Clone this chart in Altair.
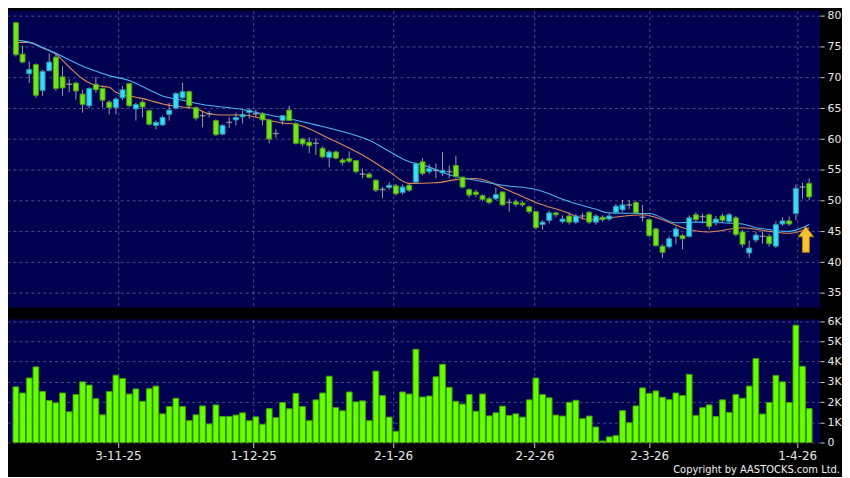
import altair as alt
import pandas as pd

# ---------------- data ----------------
opens = [78.9, 73.8, 70.6, 72.1, 67.9, 71.1, 73.3, 70.1, 68.9, 69.1,
         67.3, 65.4, 68.9, 68.2, 66.0, 65.1, 66.7, 69.0, 64.9, 66.0,
         64.6, 62.2, 62.3, 64.0, 65.0, 66.7, 67.7, 65.1, 63.8, 64.1,
         63.0, 60.8, 62.7, 63.1, 63.6, 64.3, 64.1, 64.1, 63.1, 60.9,
         63.0, 64.7, 62.5, 60.0, 59.5, 59.3, 58.5, 57.0, 57.9, 56.6,
         56.8, 56.5, 54.3, 54.3, 53.3, 51.8, 52.1, 52.4, 51.3, 52.5,
         53.0, 56.3, 54.7, 54.9, 54.5, 54.7, 55.7, 53.8, 51.8, 51.4,
         50.8, 50.3, 50.3, 51.4, 49.7, 49.8, 49.6, 49.0, 48.2, 46.1,
         46.8, 48.0, 46.6, 47.5, 46.5, 47.5, 48.1, 46.5, 47.3, 47.0,
         48.1, 48.5, 49.3, 49.7, 47.3, 46.9, 45.4, 42.6, 42.5, 44.2,
         44.3, 44.2, 47.7, 47.4, 47.7, 46.4, 47.5, 46.6, 47.2, 44.9,
         41.5, 43.6, 44.2, 44.2, 42.6, 46.2, 46.7, 47.9, 52.2, 52.8]
highs = [79.0, 75.1, 72.6, 72.3, 71.2, 73.9, 73.8, 71.8, 69.7, 69.3,
         68.0, 68.4, 70.1, 68.4, 66.3, 66.8, 68.6, 69.1, 65.9, 66.3,
         64.8, 63.0, 63.8, 65.9, 67.6, 69.1, 67.9, 65.3, 64.6, 64.6,
         63.2, 62.4, 63.5, 64.3, 64.6, 65.0, 64.8, 64.4, 63.3, 61.6,
         63.9, 65.4, 62.8, 60.2, 60.3, 60.2, 58.8, 58.2, 58.1, 56.9,
         58.0, 56.6, 55.2, 54.6, 53.5, 52.2, 53.0, 52.7, 52.6, 52.8,
         56.2, 56.9, 55.9, 56.0, 57.9, 55.7, 57.3, 53.9, 52.0, 51.8,
         51.0, 50.6, 52.1, 51.5, 50.3, 50.2, 49.9, 49.2, 48.3, 46.8,
         48.4, 48.2, 47.6, 48.1, 47.8, 48.0, 48.3, 47.8, 47.6, 47.9,
         49.4, 50.1, 50.1, 49.9, 49.3, 47.1, 45.6, 42.9, 44.2, 45.8,
         44.6, 47.6, 48.1, 47.9, 47.9, 47.5, 47.9, 48.0, 47.5, 45.2,
         43.5, 45.0, 45.0, 44.6, 46.6, 47.3, 47.4, 52.6, 52.9, 53.6]
lows = [73.4, 72.3, 69.1, 66.7, 67.0, 71.0, 67.8, 67.0, 67.6, 66.4,
        64.3, 65.0, 67.5, 65.1, 64.0, 64.0, 66.3, 65.2, 63.0, 63.5,
        62.2, 61.6, 62.1, 63.0, 64.8, 66.5, 64.9, 63.0, 61.9, 63.5,
        60.5, 60.6, 61.8, 62.2, 62.5, 63.3, 63.5, 62.2, 59.3, 60.2,
        62.3, 62.9, 59.1, 58.8, 57.7, 57.4, 56.9, 55.4, 56.7, 55.7,
        56.1, 54.4, 53.6, 53.6, 51.4, 50.4, 51.8, 50.8, 51.0, 51.4,
        52.7, 54.1, 54.3, 53.6, 54.0, 53.6, 53.6, 52.0, 50.5, 50.6,
        49.9, 49.4, 50.1, 49.1, 48.2, 49.0, 49.0, 47.9, 45.3, 45.3,
        46.3, 47.3, 46.3, 46.1, 46.2, 46.9, 46.2, 46.1, 46.6, 46.7,
        47.8, 48.2, 48.6, 47.8, 46.6, 44.1, 42.5, 40.7, 42.2, 42.9,
        42.1, 44.0, 46.5, 46.3, 45.3, 45.9, 46.4, 46.3, 44.2, 42.4,
        40.7, 43.2, 43.0, 42.5, 42.3, 45.9, 45.9, 46.8, 50.3, 50.1]
closes = [73.7, 72.5, 71.3, 67.1, 71.0, 72.5, 68.2, 68.3, 68.9, 67.8,
          65.6, 68.2, 68.0, 66.3, 65.1, 66.5, 68.0, 65.4, 65.6, 65.2,
          62.4, 62.7, 63.5, 64.7, 67.4, 67.7, 65.4, 63.4, 63.8, 64.1,
          60.7, 62.2, 62.7, 63.5, 64.0, 64.7, 64.1, 63.1, 60.0, 60.9,
          63.8, 63.0, 59.3, 59.2, 58.9, 59.3, 57.1, 57.9, 56.9, 56.2,
          56.4, 54.7, 54.3, 53.8, 51.7, 51.8, 52.5, 51.1, 52.2, 51.7,
          56.0, 54.4, 55.2, 54.9, 54.9, 54.7, 53.9, 52.2, 50.9, 51.0,
          50.2, 49.7, 51.0, 49.3, 49.7, 49.4, 49.3, 48.2, 45.6, 46.5,
          48.0, 47.7, 47.0, 46.5, 47.5, 47.5, 46.5, 47.5, 46.9, 47.5,
          49.1, 49.3, 49.3, 48.0, 47.3, 44.3, 42.7, 41.6, 43.8, 45.4,
          43.8, 47.2, 46.9, 47.4, 45.8, 47.0, 46.8, 47.7, 44.5, 42.9,
          42.3, 44.4, 44.2, 43.0, 46.1, 46.7, 46.2, 52.0, 52.2, 50.6]
volumes = [2750, 2450, 3190, 3740, 2530, 2080, 1960, 2450, 1520, 2370,
           3000, 2840, 2170, 1370, 2520, 3330, 3170, 2400, 2650, 2040,
           2660, 2790, 1420, 1780, 2190, 1780, 1080, 1370, 1810, 920,
           1860, 1290, 1290, 1360, 1470, 1080, 1270, 900, 1680, 1230,
           1980, 1670, 2430, 1780, 1080, 2110, 2450, 3280, 1730, 1570,
           2500, 2010, 2060, 1080, 3530, 2320, 1260, 560, 2500, 2400,
           4610, 2250, 2300, 3250, 3870, 2730, 2040, 1900, 2370, 1550,
           2400, 1320, 1470, 1800, 1340, 1420, 1260, 2110, 3190, 2370,
           2210, 1360, 1310, 1990, 2090, 1180, 1310, 770, 80, 280,
           340, 1580, 980, 1810, 2700, 2420, 2550, 2240, 2120, 2450,
           2320, 3370, 1340, 1720, 1860, 1290, 2110, 1490, 2370, 2190,
           2790, 4150, 1410, 1980, 3320, 3000, 1980, 5800, 3770, 1680]

# moving averages read at sample bars
ma_short_idx = [0, 2, 4, 6, 8, 10, 12, 14, 15, 18, 20, 22, 25, 27, 29, 31, 34, 37, 40, 42,
                47, 52, 56, 59, 63, 66, 69, 74, 78, 82, 86, 89, 94, 97, 100, 104, 109, 113, 116, 119]
ma_short_val = [75.7, 75.7, 74.8, 73.8, 71.7, 69.8, 68.7, 68.4, 67.6, 66.8, 66.3, 65.7, 65.2, 64.9,
                64.1, 63.9, 63.9, 63.3, 62.6, 62.4, 60.1, 57.4, 54.7, 52.8, 52.9, 53.4, 53.6, 51.6,
                49.7, 48.3, 46.9, 47.2, 47.7, 46.9, 45.6, 44.9, 45.6, 45.0, 44.7, 45.6]
ma_long_idx = [0, 2, 5, 11, 14, 17, 20, 22, 25, 28, 31, 34, 37, 40, 45, 50, 53, 56, 59, 61,
               65, 70, 73, 78, 80, 82, 87, 89, 95, 99, 102, 106, 109, 111, 113, 114, 116, 119]
ma_long_val = [76.1, 75.7, 74.4, 71.4, 70.3, 69.5, 68.0, 67.0, 66.3, 65.6, 65.2, 64.8, 64.1, 63.5,
               62.3, 60.9, 59.8, 58.0, 56.3, 55.8, 54.2, 53.1, 52.5, 51.8, 51.1, 50.2, 48.6, 48.0,
               47.9, 46.4, 46.5, 46.4, 46.2, 45.6, 45.3, 45.1, 45.0, 46.1]

tick_pos = [15.3, 35.6, 56.6, 77.8, 95.0, 117.2]
tick_labels = ["3-11-25", "1-12-25", "2-1-26", "2-2-26", "2-3-26", "1-4-26"]
price_ticks = [35, 40, 45, 50, 55, 60, 65, 70, 75, 80]
vol_ticks = [0, 1000, 2000, 3000, 4000, 5000, 6000]
arrow_pos = [118.5]
arrow_price = [43.7]
copyright_text = "Copyright by AASTOCKS.com Ltd."

# ---------------- tables ----------------
n = len(opens)
direction = ["up" if c > o else ("down" if c < o else "flat") for o, c in zip(opens, closes)]
cdf = pd.DataFrame({"i": list(range(n)), "open": opens, "high": highs, "low": lows,
                    "close": closes, "vol": volumes, "dir": direction})
short_df = pd.DataFrame({"i": ma_short_idx, "ma": ma_short_val})
long_df = pd.DataFrame({"i": ma_long_idx, "ma": ma_long_val})
arrow_df = pd.DataFrame({"i": arrow_pos, "p": arrow_price})

# ---------------- styling ----------------
W = 818
GRID = dict(gridColor="#8a8ab4", gridOpacity=0.55, gridDash=[3, 3], gridWidth=1)
LBL = dict(labelColor="#e8e8e8", labelFont="DejaVu Sans")

xscale = alt.Scale(domain=[-0.44, 119.9], nice=False, zero=False)
x_top = alt.X("i:Q", scale=xscale, title=None,
              axis=alt.Axis(values=tick_pos, grid=True, labels=False, ticks=False,
                            domain=False, **GRID))
label_expr = " : ".join(
    [f"datum.value == {p} ? '{t}'" for p, t in zip(tick_pos, tick_labels)]) + " : ''"
x_bot = alt.X("i:Q", scale=xscale, title=None,
              axis=alt.Axis(values=tick_pos, grid=True, labelExpr=label_expr, ticks=True,
                            tickSize=5, tickColor="#cccccc", domain=False, labelFontSize=12,
                            labelPadding=3, labelFlush=False, **GRID, **LBL))

pscale = alt.Scale(domain=[32.63, 80.85], nice=False, zero=False)
yaxis = alt.Axis(orient="right", values=price_ticks, grid=True, domain=False, tickSize=4,
                 tickColor="#cccccc", labelFontSize=11, labelPadding=3, **GRID, **LBL)

base = alt.Chart(cdf)
wicks = base.mark_rule(color="#9c9c9c", strokeWidth=1).encode(
    x=x_top, y=alt.Y("low:Q", scale=pscale, axis=yaxis, title=None), y2="high:Q")
up_bodies = base.transform_filter("datum.dir == 'up'").mark_bar(
    size=5, strokeWidth=1, color="#38dcf8", stroke="#2a8fb0").encode(
    x=x_top, y=alt.Y("open:Q", scale=pscale, axis=yaxis, title=None), y2="close:Q")
down_bodies = base.transform_filter("datum.dir == 'down'").mark_bar(
    size=5, strokeWidth=1, color="#72e41c", stroke="#4c9a18").encode(
    x=x_top, y=alt.Y("open:Q", scale=pscale, axis=yaxis, title=None), y2="close:Q")
dojis = base.transform_filter("datum.dir == 'flat'").mark_tick(
    orient="horizontal", size=6, thickness=1.5, color="#b0b0b0").encode(
    x=x_top, y=alt.Y("open:Q", scale=pscale, axis=yaxis, title=None))
short_line = alt.Chart(short_df).mark_line(
    strokeWidth=1.1, interpolate="monotone", color="#e08a55").encode(
    x=x_top, y=alt.Y("ma:Q", scale=pscale, axis=yaxis, title=None))
long_line = alt.Chart(long_df).mark_line(
    strokeWidth=1.1, interpolate="monotone", color="#4cb4f0").encode(
    x=x_top, y=alt.Y("ma:Q", scale=pscale, axis=yaxis, title=None))
arrow = alt.Chart(arrow_df).mark_point(
    shape="M0,-1 L0.6,-0.2 L0.27,-0.2 L0.27,1 L-0.27,1 L-0.27,-0.2 L-0.6,-0.2 Z",
    size=676, filled=True, fill="#f6c232", stroke="#b07a10", strokeWidth=1, opacity=1).encode(
    x=x_top, y=alt.Y("p:Q", scale=pscale, axis=yaxis, title=None))

top = alt.layer(wicks, short_line, long_line, up_bodies, down_bodies, dojis, arrow).properties(
    width=W, height=299)

vscale = alt.Scale(domain=[0, 6083], nice=False, zero=True)
vaxis = alt.Axis(orient="right", values=vol_ticks, grid=True, domain=False, tickSize=4,
                 tickColor="#cccccc", labelFontSize=11, labelPadding=3,
                 labelExpr="datum.value == 0 ? '0' : (datum.value / 1000) + 'K'", **GRID, **LBL)
vol = base.mark_bar(size=5.8, color="#66ff00", stroke="#3f9a0a", strokeWidth=1).encode(
    x=x_bot, y=alt.Y("vol:Q", scale=vscale, axis=vaxis, title=None))
copyright_mark = alt.Chart(pd.DataFrame({"t": [copyright_text]})).mark_text(
    align="right", baseline="middle", fontSize=10, font="DejaVu Sans", color="#f0f0f0").encode(
    text="t:N", x=alt.value(838), y=alt.value(152))
bottom = alt.layer(vol, copyright_mark).properties(width=W, height=124)

chart = alt.vconcat(top, bottom, spacing=7).properties(
    padding={"left": 0, "right": 0, "top": 0, "bottom": 0},
    background="#000000",
).configure_view(fill="#000050", stroke=None)

chart.save("out.html", embed_options={"renderer": "svg", "actions": False})
